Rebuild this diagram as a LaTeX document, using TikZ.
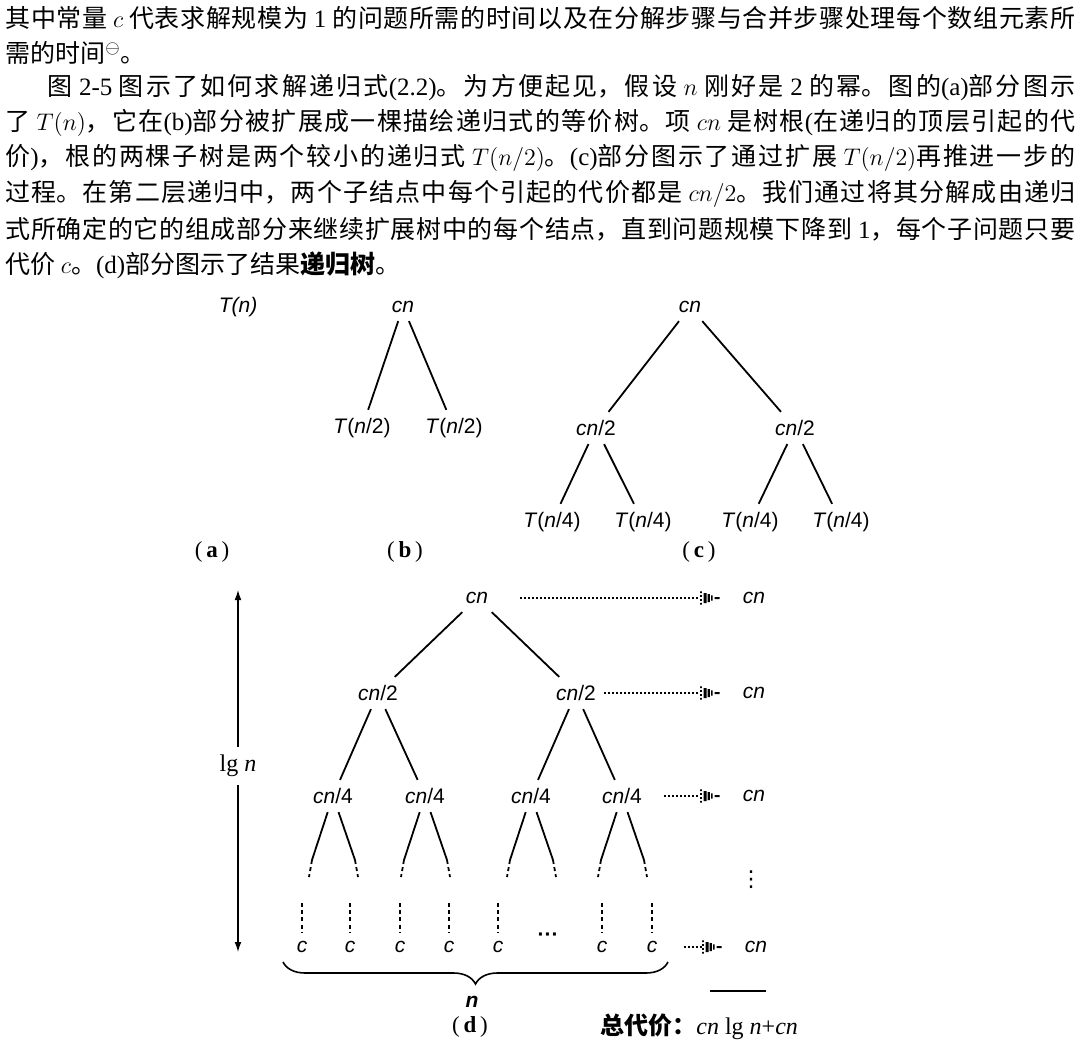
\documentclass[tikz,border=0pt]{standalone}
\usepackage{fontspec}
\setmainfont{Liberation Serif}
\newfontfamily\cjk{Noto Sans CJK SC}
\newfontfamily\labfont{Liberation Sans}
\newfontfamily\symfont{DejaVu Sans}
\usetikzlibrary{arrows.meta,decorations.pathreplacing,calc}
\XeTeXlinebreaklocale "zh"
\XeTeXlinebreakskip=0pt plus 3pt

\newcommand{\lat}[1]{{\rmfamily #1}}
\newcommand{\jline}[2]{\parbox{#1}{\cjk\fontsize{12.5}{15}\selectfont\parfillskip=0pt\tolerance=9999\emergencystretch=20pt #2}}

% dotted arrow tip of the cost column
\pgfdeclarearrow{
  name = Fade,
  setup code = {
    \pgfarrowssettipend{0pt}
    \pgfarrowssetlineend{-10.7pt}
    \pgfarrowssetbackend{-10.9pt}
    \pgfarrowshullpoint{0pt}{0pt}
    \pgfarrowshullpoint{-10.9pt}{3.3pt}
    \pgfarrowshullpoint{-10.9pt}{-3.3pt}
  },
  drawing code = {
    \pgfpathrectangle{\pgfpoint{-10.7pt}{-3.3pt}}{\pgfpoint{0.9pt}{0.9pt}}
    \pgfpathrectangle{\pgfpoint{-10.7pt}{-1.45pt}}{\pgfpoint{0.9pt}{0.9pt}}
    \pgfpathrectangle{\pgfpoint{-10.7pt}{0.55pt}}{\pgfpoint{0.9pt}{0.9pt}}
    \pgfpathrectangle{\pgfpoint{-10.7pt}{2.4pt}}{\pgfpoint{0.9pt}{0.9pt}}
    \pgfpathrectangle{\pgfpoint{-8.9pt}{-2.5pt}}{\pgfpoint{1.4pt}{5pt}}
    \pgfpathrectangle{\pgfpoint{-6.9pt}{-2pt}}{\pgfpoint{1.1pt}{4pt}}
    \pgfpathrectangle{\pgfpoint{-5.2pt}{-1.3pt}}{\pgfpoint{0.8pt}{2.6pt}}
    \pgfpathrectangle{\pgfpoint{-3.4pt}{-0.5pt}}{\pgfpoint{2.4pt}{1pt}}
    \pgfusepathqfill
  }
}

\begin{document}
\begin{tikzpicture}[x=0.5pt, y=-0.5pt,
    lbl/.style={font=\labfont\fontsize{10.5}{12}\selectfont, inner xsep=2pt, inner ysep=4pt},
    sublbl/.style={font=\fontsize{11.5}{13}\selectfont},
    edge/.style={line width=0.9pt},
    tail/.style={line width=0.9pt, dash pattern=on 2pt off 1.6pt},
    sumline/.style={line width=1.3pt, dash pattern=on 1pt off 1pt, -Fade, shorten >=8.5pt}]
  \useasboundingbox (0,0) rectangle (1082,1059);
  %
  % text above the figure
  \node[anchor=west, inner sep=0] (t1) at (5,18) {\jline{535pt}{其中常量 $c$ 代表求解规模为 \lat{1} 的问题所需的时间以及在分解步骤与合并步骤处理每个数组元素所}};
  \node[anchor=west, inner sep=0, font=\cjk\fontsize{12.5}{15}\selectfont] (t2) at (5,53) {需的时间$^{\ominus}$。};
  \node[anchor=west, inner sep=0] (t3) at (47,88) {\jline{514pt}{图 \lat{2-5} 图示了如何求解递归式\lat{(2.2)}。为方便起见，假设 $n$ 刚好是 \lat{2} 的幂。图的\lat{(a)}部分图示}};
  \node[anchor=west, inner sep=0] (t4) at (5,123) {\jline{535pt}{了 $T(n)$，它在\lat{(b)}部分被扩展成一棵描绘递归式的等价树。项 $cn$ 是树根\lat{(}在递归的顶层引起的代}};
  \node[anchor=west, inner sep=0] (t5) at (5,158) {\jline{535pt}{价\lat{)}，根的两棵子树是两个较小的递归式 $T(n/2)$。\lat{(c)}部分图示了通过扩展 $T(n/2)$再推进一步的}};
  \node[anchor=west, inner sep=0] (t6) at (5,194) {\jline{535pt}{过程。在第二层递归中，两个子结点中每个引起的代价都是 $cn/2$。我们通过将其分解成由递归}};
  \node[anchor=west, inner sep=0] (t7) at (5,229) {\jline{535pt}{式所确定的它的组成部分来继续扩展树中的每个结点，直到问题规模下降到 \lat{1}，每个子问题只要}};
  \node[anchor=west, inner sep=0, font=\cjk\fontsize{12.5}{15}\selectfont] (t8) at (5,265) {代价 $c$。\lat{(d)}部分图示了结果\textbf{递归树}。};
  %
  % (a)
  \node[lbl] (a0) at (238,307) {\textit{T(n)}};
  \node[sublbl] (capa) at (212,552) {(\,\textbf{a}\,)};
  %
  % (b)
  \node[lbl] (b0) at (403,307) {\textit{cn}};
  \node[lbl] (b1) at (362,428) {\textit{T}(\textit{n}/2)};
  \node[lbl] (b2) at (454,428) {\textit{T}(\textit{n}/2)};
  \draw[edge] (b0) -- (b1);
  \draw[edge] (b0) -- (b2);
  \node[sublbl] (capb) at (405,552) {(\,\textbf{b}\,)};
  %
  % (c)
  \node[lbl] (c0) at (690,307) {\textit{cn}};
  \node[lbl] (c1) at (596,428) {\textit{cn}/2};
  \node[lbl] (c2) at (795,428) {\textit{cn}/2};
  \node[lbl] (c11) at (552,522) {\textit{T}(\textit{n}/4)};
  \node[lbl] (c12) at (643,522) {\textit{T}(\textit{n}/4)};
  \node[lbl] (c21) at (750,522) {\textit{T}(\textit{n}/4)};
  \node[lbl] (c22) at (841,522) {\textit{T}(\textit{n}/4)};
  \foreach \p/\c in {c0/c1,c0/c2,c1/c11,c1/c12,c2/c21,c2/c22}
    \draw[edge] (\p) -- (\c);
  \node[sublbl] (capc) at (699,552) {(\,\textbf{c}\,)};
  %
  % (d) the tree
  \node[lbl] (d0) at (477,598) {\textit{cn}};
  \node[lbl] (d1) at (378,693) {\textit{cn}/2};
  \node[lbl] (d2) at (576,693) {\textit{cn}/2};
  \foreach \i/\x in {1/333,2/425,3/531,4/622}
    \node[lbl] (q\i) at (\x,796) {\textit{cn}/4};
  \foreach \p/\c in {d0/d1,d0/d2,d1/q1,d1/q2,d2/q3,d2/q4}
    \draw[edge] (\p) -- (\c);
  \foreach \i in {1,...,4} {
    \path (q\i) ++(-21,64) coordinate (ql\i) ++(-3,17) coordinate (qll\i);
    \path (q\i) ++(22,64) coordinate (qr\i) ++(3,17) coordinate (qrr\i);
    \draw[edge] (q\i) -- (ql\i);
    \draw[edge] (q\i) -- (qr\i);
    \draw[tail] (ql\i) -- (qll\i);
    \draw[tail] (qr\i) -- (qrr\i);
  }
  %
  % leaves
  \foreach \i/\x in {1/302,2/350,3/400,4/449,5/498,7/602,8/652} {
    \node[lbl] (l\i) at (\x,947) {\textit{c}};
    \path (l\i) ++(0,-44) coordinate (v\i);
    \draw[tail] (v\i) -- (l\i);
  }
  \node[lbl] (l6) at (548,937) {\bfseries ···};
  %
  % cost column
  \node[lbl] (s1) at (754,598) {\textit{cn}};
  \node[lbl] (s2) at (754,693) {\textit{cn}};
  \node[lbl] (s3) at (754,796) {\textit{cn}};
  \node[font=\symfont\fontsize{11}{12}\selectfont] (sv) at (751,880) {⋮};
  \node[lbl] (s4) at (756,947) {\textit{cn}};
  \foreach \a/\b/\g in {d0/s1/14,d2/s2/2,q4/s3/9,l8/s4/11}
    \draw[sumline, shorten <=\g pt] (\a) -- (\b);
  %
  % height of the tree
  \node[font=\fontsize{12}{14}\selectfont, inner ysep=4pt] (lg) at (238,766) {lg \textit{n}};
  \coordinate (top) at (238,590);
  \coordinate (bot) at (238,952);
  \draw[-{Latex[length=5pt,width=3.4pt]}, line width=0.6pt] (lg) -- (top);
  \draw[-{Latex[length=5pt,width=3.4pt]}, line width=0.6pt] (lg) -- (bot);
  %
  % number of leaves
  \coordinate (bl) at (283,962);
  \coordinate (br) at (668,962);
  \draw[decorate, decoration={brace, mirror, amplitude=11pt}, line width=0.8pt] (bl) -- (br);
  \node[lbl] (bn) at (472,1002) {\textbf{\textit{n}}};
  \node[sublbl] (capd) at (470,1027) {(\,\textbf{d}\,)};
  %
  % total
  \coordinate (rl) at (710,991);
  \coordinate (rr) at (766,991);
  \draw[line width=0.8pt] (rl) -- (rr);
  \node[anchor=west, font=\fontsize{12}{14}\selectfont, inner sep=0] (total) at (600,1027) {{\cjk\bfseries 总代价：}\textit{cn} lg \textit{n}+\textit{cn}};
\end{tikzpicture}
\end{document}
